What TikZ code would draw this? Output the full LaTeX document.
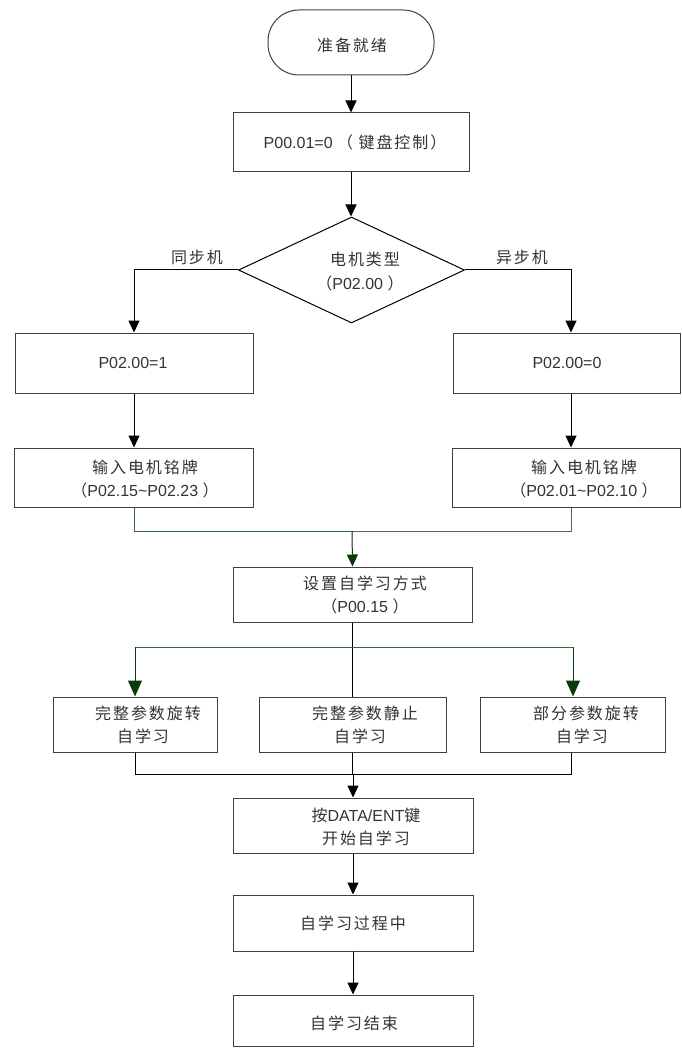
\documentclass[tikz,border=0pt]{standalone}
\usepackage{fontspec}
\setmainfont{Liberation Sans}
\newfontfamily\cjk[LetterSpace=12]{Noto Sans CJK SC}
\usetikzlibrary{arrows.meta,shapes.geometric}
\definecolor{boxc}{HTML}{404040}
\definecolor{txtc}{HTML}{333333}
\definecolor{gline}{HTML}{3A6A3A}
\definecolor{garrow}{HTML}{0A3A0A}
\definecolor{grayl}{HTML}{606060}
\tikzset{
  box/.style={draw=boxc, line width=1pt, rectangle, inner sep=0pt},
  lbl/.style={text=txtc, inner sep=0pt, align=center, font=\fontsize{16}{24}\selectfont},
  conn/.style={line width=1pt, draw=black},
  arr/.style={conn, -{Triangle[length=12pt,width=11pt]}},
  garr/.style={line width=1pt, draw=garrow, -{Triangle[length=16pt,width=14pt]}, fill=garrow},
}
\begin{document}
\begin{tikzpicture}[x=1pt,y=-1pt]
\useasboundingbox (0,0) rectangle (681,1048);
% nodes
\node[box, rounded corners=31pt, minimum width=166pt, minimum height=65pt] (start) at (351,42.5) {};
\node[box, minimum width=236pt, minimum height=59pt] (b1) at (351,142.5) {};
\node[diamond, draw=black, line width=1pt, inner sep=0pt, minimum width=226pt, minimum height=106pt] (dia) at (351.5,270) {};
\node[box, minimum width=238pt, minimum height=60pt] (b2L) at (134,363) {};
\node[box, minimum width=227pt, minimum height=60pt] (b2R) at (566.5,363) {};
\node[box, minimum width=239pt, minimum height=59pt] (b3L) at (133.5,477.5) {};
\node[box, minimum width=228pt, minimum height=59pt] (b3R) at (566,477.5) {};
\node[box, minimum width=239pt, minimum height=55pt] (b4) at (352.5,594.5) {};
\node[box, minimum width=164pt, minimum height=55pt] (b5L) at (135,724.5) {};
\node[box, minimum width=187pt, minimum height=55pt] (b5M) at (352.5,724.5) {};
\node[box, minimum width=185pt, minimum height=55pt] (b5R) at (572.5,724.5) {};
\node[box, minimum width=240pt, minimum height=55pt] (b6) at (353,825.5) {};
\node[box, minimum width=240pt, minimum height=56pt] (b7) at (353,923) {};
\node[box, minimum width=240pt, minimum height=51pt] (b8) at (353,1020.5) {};
% texts
\node[lbl] (t0) at (352,45) {\cjk 准备就绪};
\node[lbl] (t1) at (355,142) {P00.01=0 \cjk（ 键盘控制）};
\node[lbl] (td1) at (365,259) {\cjk 电机类型};
\node[lbl] (td2) at (360,283) {\cjk（\rmfamily P02.00 \cjk）};
\node[lbl] (tsync) at (197,257) {\cjk 同步机};
\node[lbl] (tasync) at (522,257) {\cjk 异步机};
\node[lbl] (t2L) at (133,363) {P02.00=1};
\node[lbl] (t2R) at (567,363) {P02.00=0};
\node[lbl] (t3L) at (145,479) {\cjk 输入电机铭牌\\[-0.5pt]\cjk（\rmfamily P02.15\textasciitilde P02.23 \cjk）};
\node[lbl] (t3R) at (584,479) {\cjk 输入电机铭牌\\[-0.5pt]\cjk（\rmfamily P02.01\textasciitilde P02.10 \cjk）};
\node[lbl] (t4) at (365,595) {\cjk 设置自学习方式\\[-0.5pt]\cjk（\rmfamily P00.15 \cjk）};
\node[lbl] (t5L) at (148,725) {\cjk 完整参数旋转\\[-0.5pt]\cjk\hspace*{-10pt}自学习};
\node[lbl] (t5M) at (365,725) {\cjk 完整参数静止\\[-0.5pt]\cjk\hspace*{-10pt}自学习};
\node[lbl] (t5R) at (586,725) {\cjk 部分参数旋转\\[-0.5pt]\cjk\hspace*{-8pt}自学习};
\node[lbl] (t6) at (366,827) {{\cjk 按}DATA/ENT{\cjk 键}\\[-0.5pt]\cjk 开始自学习};
\node[lbl] (t7) at (353,923) {\cjk 自学习过程中};
\node[lbl] (t8) at (354,1023) {\cjk 自学习结束};
% helper coordinates
\coordinate (m1) at (352,531);
\coordinate (s1) at (352,647);
\coordinate (m2) at (353,774);
% connectors
\draw[arr] (start.south) -- (b1.north);
\draw[arr] (b1.south) -- (b1.south |- dia.north);
\draw[arr] (dia.west) -| (b2L.north);
\draw[arr] (dia.east) -| ([xshift=4.5pt]b2R.north);
\draw[arr] (b2L.south) -- (b3L.north -| b2L.south);
\draw[arr] ([xshift=4.5pt]b2R.south) -- ([xshift=4.5pt]b2R.south |- b3R.north);
\draw[line width=1pt, draw=gline] (b3L.south -| b2L.south) |- (m1);
\draw[line width=1pt, draw=grayl] ([xshift=4.5pt]b2R.south |- b3R.south) |- (m1);
\draw[garr, line width=1pt, -{Triangle[length=12pt,width=11pt]}] (m1) -- (b4.north);
\draw[conn] (b4.south) -- (b5M.north);
\draw[line width=1pt, draw=gline] (b5L.north |- s1) -- (b5R.north |- s1);
\draw[garr] (b5L.north |- s1) -- (b5L.north);
\draw[garr] ([xshift=0.5pt]b5R.north |- s1) -- ([xshift=0.5pt]b5R.north);
\draw[conn] (b5L.south) |- (m2);
\draw[conn] ([xshift=-1.5pt]b5R.south) |- (m2);
\draw[conn] (b5M.south) -- (b5M.south |- m2);
\draw[arr] (m2) -- (b6.north);
\draw[arr] (b6.south) -- (b7.north);
\draw[arr] (b7.south) -- (b8.north);
\end{tikzpicture}
\end{document}
